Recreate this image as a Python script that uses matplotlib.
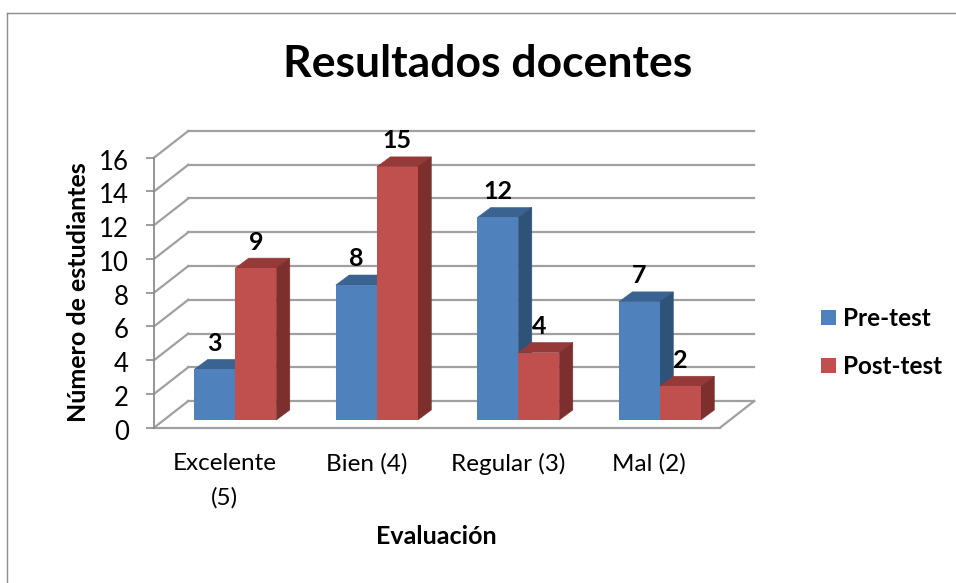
import matplotlib
matplotlib.use('Agg')
import matplotlib.pyplot as plt
from matplotlib.lines import Line2D
from matplotlib.patches import Polygon, Rectangle
from matplotlib.transforms import Affine2D

plt.rcParams['font.family'] = ['Lato', 'DejaVu Sans']

# Datos
categorias = ['Excelente\n(5)', 'Bien (4)', 'Regular (3)', 'Mal (2)']
pre_test = [3, 8, 12, 7]
post_test = [9, 15, 4, 2]
ticks_y = [0, 2, 4, 6, 8, 10, 12, 14, 16]

W, H = 956, 583
fig = plt.figure(figsize=(W / 100, H / 100), dpi=100)

# marco exterior: solo se ve arriba y a la izquierda
fig.add_artist(Line2D([7 / W, 7 / W], [0, 1 - 12.5 / H], transform=fig.transFigure, color='#8c8c8c', lw=1))
fig.add_artist(Line2D([7 / W, 1], [1 - 12.5 / H, 1 - 12.5 / H], transform=fig.transFigure, color='#8c8c8c', lw=1))

# area frontal del grafico en pixeles
ax = fig.add_axes([154 / W, 1 - 427.7 / H, 566 / W, 270 / H])
ax.set_xlim(0, 4)
ax.set_ylim(0, 16)
ax.patch.set_visible(False)
for s in ['top', 'right', 'bottom']:
    ax.spines[s].set_visible(False)
ax.spines['left'].set_color('#8c8c8c')
ax.spines['left'].set_linewidth(1.3)

gris = '#a0a0a0'
prof = (34.3, 26.7)  # profundidad del suelo
fondo = ax.transData + Affine2D().translate(*prof)

# paredes: lineas de rejilla
for t in ticks_y:
    ax.plot([0, 4], [t, t], color=gris, lw=1.6, clip_on=False, zorder=1, transform=fondo)
    x0, y0 = ax.transData.transform((0, t))
    ax.plot([x0, x0 + prof[0]], [y0, y0 + prof[1]], color=gris, lw=1.6, clip_on=False,
            zorder=1, transform=None)

# suelo
ax.plot([0, 4], [0, 0], color=gris, lw=1.6, clip_on=False, zorder=1)
x4, y4 = ax.transData.transform((4, 0))
ax.plot([x4, x4 + prof[0]], [y4, y4 + prof[1]], color=gris, lw=1.6, clip_on=False,
        zorder=1, transform=None)

ax.set_xticks([])
ax.set_yticks(ticks_y)
ax.tick_params(axis='y', labelsize=18.5, length=6, width=1.2, color='#8c8c8c', pad=12)
for lab in ax.get_yticklabels():
    lab.set_transform(lab.get_transform() + Affine2D().translate(0, -2))

# barras: caras frontal, superior y lateral
trans = ax.transData + Affine2D().translate(0, 7.7)
etiqueta = trans + Affine2D().translate(0, 26)
ancho = 41 / 141.5
inicio = 40.3 / 141.5
dx, dy = 13.5, 10


def barra(x, v, frente, arriba, lado, z):
    x1 = x + ancho
    px0, py0 = trans.transform((x, v))
    px1, py1 = trans.transform((x1, v))
    _, pb = trans.transform((x1, 0))
    ax.add_patch(Polygon([(px0, py0), (px1, py1), (px1 + dx, py1 + dy), (px0 + dx, py0 + dy)],
                         fc=arriba, ec=arriba, lw=0.4, transform=None, zorder=z, clip_on=False))
    ax.add_patch(Polygon([(px1, pb), (px1, py1), (px1 + dx, py1 + dy), (px1 + dx, pb + dy)],
                         fc=lado, ec=lado, lw=0.4, transform=None, zorder=z, clip_on=False))
    ax.bar(x, v, ancho, align='edge', color=frente, transform=trans, zorder=z + 0.2, clip_on=False)


for i in range(4):
    barra(i + inicio, pre_test[i], '#4f81bd', '#3b6391', '#2f5279', 3 + i)
    barra(i + inicio + ancho, post_test[i], '#c0504d', '#953a38', '#7d2f2d', 3.5 + i)
    ax.text(i + inicio + ancho / 2, pre_test[i], str(pre_test[i]), transform=etiqueta,
            ha='center', va='center', fontsize=18, fontweight='bold', zorder=20)
    ax.text(i + inicio + 1.5 * ancho, post_test[i], str(post_test[i]), transform=etiqueta,
            ha='center', va='center', fontsize=18, fontweight='bold', zorder=20)

# etiquetas de categoria
for i, c in enumerate(categorias):
    ax.annotate(c, xy=(i + 0.5, 0), xycoords='data', xytext=(0, -25), textcoords='offset pixels',
                ha='center', va='top', fontsize=17.5, linespacing=1.75)

fig.text(488 / W, 1 - 64 / H, 'Resultados docentes', ha='center', va='center',
         fontsize=32, fontweight='bold')
fig.text(436 / W, 1 - 536 / H, 'Evaluación', ha='center', va='center', fontsize=18, fontweight='bold')
fig.text(78 / W, 1 - 292 / H, 'Número de estudiantes', ha='center', va='center', rotation=90,
         fontsize=18, fontweight='bold')

# leyenda
for y, lab, col in [(317, 'Pre-test', '#4f81bd'), (365, 'Post-test', '#c0504d')]:
    fig.add_artist(Rectangle((821 / W, 1 - (y + 7.5) / H), 15 / W, 15 / H, transform=fig.transFigure,
                             fc=col, ec='none'))
    fig.text(843 / W, 1 - (y + 1.5) / H, lab, ha='left', va='center', fontsize=17.5, fontweight='bold')

fig.savefig('out.png', dpi=100)
